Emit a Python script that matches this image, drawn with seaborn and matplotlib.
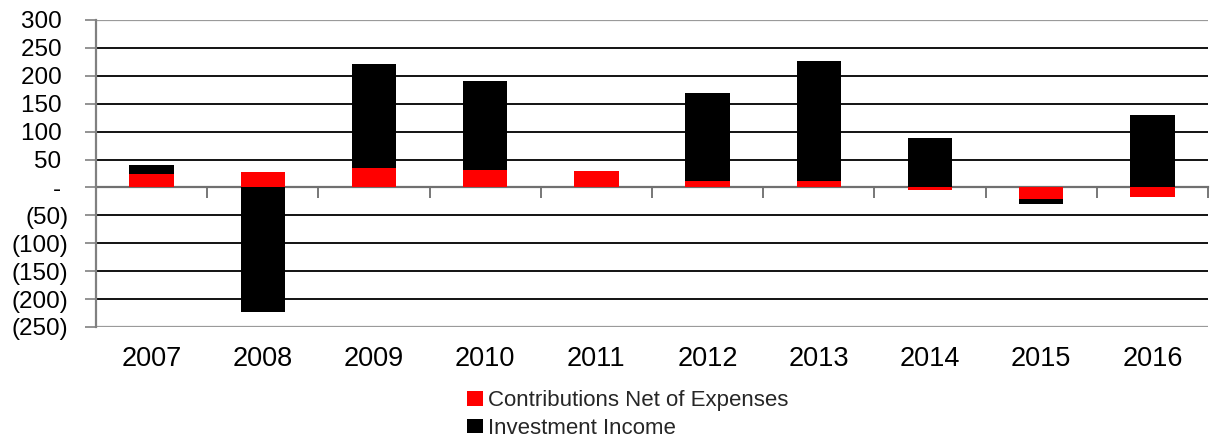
import numpy as np
import pandas as pd
import matplotlib
matplotlib.use("Agg")
import matplotlib.pyplot as plt
from matplotlib.patches import Patch
from matplotlib.ticker import FuncFormatter, FixedLocator
import seaborn as sns

years = ["2007", "2008", "2009", "2010", "2011", "2012", "2013", "2014", "2015", "2016"]
contributions = [25, 28, 34, 32, 29, 11, 11, -5, -21, -17]
investment = [16, -223, 187, 158, 1, 159, 216, 88, -9, 130]

series_names = ["Contributions Net of Expenses", "Investment Income"]
series_colors = ["#ff0000", "#000000"]

sns.set_theme(style="white")
plt.rcParams["font.family"] = ["Liberation Sans", "DejaVu Sans"]

fig = plt.figure(figsize=(12.11, 4.38), dpi=100)
ax = fig.add_axes([96 / 1211, 1 - 327 / 438, 1112 / 1211, 307 / 438])

contrib = np.array(contributions, dtype=float)
invest = np.array(investment, dtype=float)

# stacked bars: positives stack upward, negatives stack downward
inv_bottom = np.where(np.sign(invest) == np.sign(contrib), contrib, 0.0)

df_c = pd.DataFrame({"year": years, "value": contrib})
df_i = pd.DataFrame({"year": years, "value": invest})

sns.barplot(data=df_c, x="year", y="value", color=series_colors[0],
            width=0.4, saturation=1, edgecolor="none", linewidth=0, ax=ax, zorder=3)
sns.barplot(data=df_i, x="year", y="value", color=series_colors[1],
            width=0.4, saturation=1, edgecolor="none", linewidth=0, ax=ax, zorder=3,
            bottom=inv_bottom)

ax.set_xlim(-0.5, len(years) - 0.5)
ax.set_ylim(-250, 300)
ax.set_xlabel("")
ax.set_ylabel("")

yticks = list(range(-250, 301, 50))
ax.yaxis.set_major_locator(FixedLocator(yticks))


def fmt(v, pos):
    # accounting style: dash for zero, parentheses for negatives
    v = int(round(v))
    if v == 0:
        return "- "
    if v < 0:
        return f"({-v})"
    return f"{v} "


ax.yaxis.set_major_formatter(FuncFormatter(fmt))
ax.tick_params(axis="y", which="major", direction="out", length=8, width=1.2,
               color="#808080", labelsize=17.5, labelcolor="black", pad=12, left=True)

# horizontal gridlines
for v in yticks:
    if v in (300, -250):
        ax.axhline(v, color="#9a9a9a", lw=1.6, zorder=1)
    elif v == 0:
        continue
    else:
        ax.axhline(v, color="black", lw=1.3, zorder=1)

# category labels below the plot area
ax.tick_params(axis="x", which="major", length=0, labelsize=19.5, labelcolor="black", pad=14)

for side in ["top", "right", "bottom"]:
    ax.spines[side].set_visible(False)
ax.spines["left"].set_color("#808080")
ax.spines["left"].set_linewidth(1.6)
ax.spines["left"].set_zorder(4)

# zero axis with tick marks between categories
zero_frac = (0 - (-250)) / (300 - (-250))
sec = ax.secondary_xaxis(zero_frac)
sec.set_xticks(np.arange(-0.5, len(years) - 0.4, 1.0))
sec.set_xticklabels([])
sec.tick_params(axis="x", direction="out", length=8, width=1.2, color="#606060")
sec.spines["bottom"].set_color("#707070")
sec.spines["bottom"].set_linewidth(1.6)
for s in ["top", "left", "right"]:
    sec.spines[s].set_visible(False)

handles = [Patch(facecolor=c, edgecolor="none", label=n)
           for c, n in zip(series_colors, series_names)]
fig.legend(handles=handles, loc="upper left", bbox_to_anchor=(456 / 1211, 1 - 379 / 438),
           frameon=False, fontsize=16, handlelength=0.7, handleheight=0.65,
           handletextpad=0.25, labelspacing=0.3, borderpad=0)

fig.savefig("out.png", dpi=100)
